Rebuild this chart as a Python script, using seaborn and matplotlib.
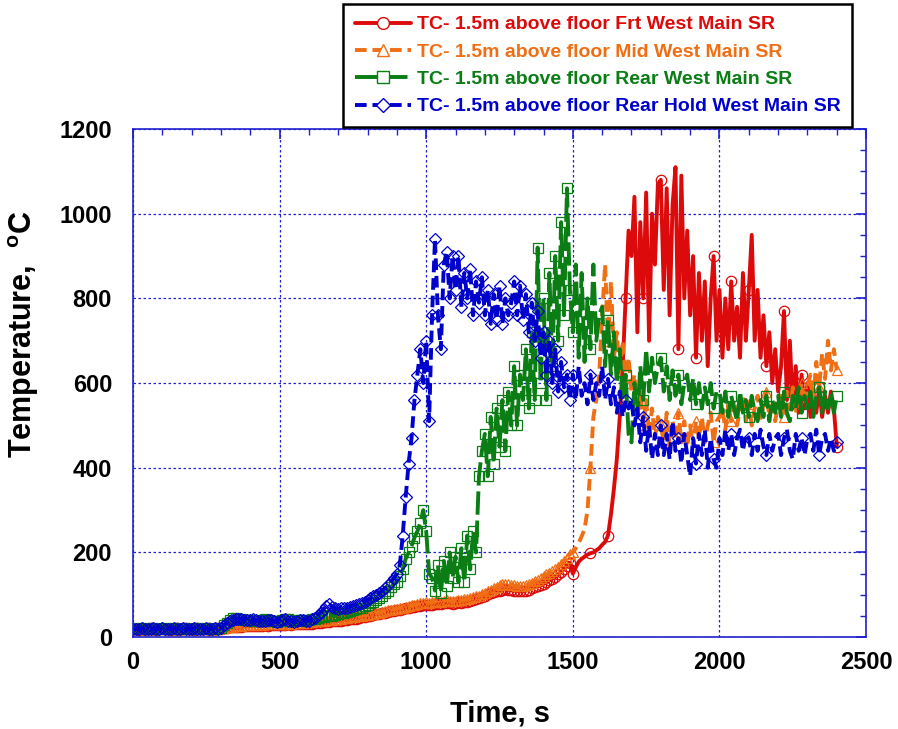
import matplotlib
matplotlib.use("Agg")
import matplotlib.pyplot as plt
from matplotlib.lines import Line2D
from matplotlib.ticker import MultipleLocator
import numpy as np
import seaborn as sns

# time axis, one reading every 10 s (0 .. 2400 s)
time_s = np.arange(0, 2410, 10)

# TC- 1.5m above floor Frt West Main SR
frt_west = [
    19, 20, 18, 21, 20, 19, 21, 20, 18, 20,
    21, 19, 20, 18, 20, 21, 19, 20, 21, 19,
    20, 18, 21, 20, 19, 20, 21, 19, 20, 21,
    20, 21, 22, 23, 24, 24, 25, 25, 26, 26,
    26, 27, 27, 26, 27, 28, 27, 28, 28, 29,
    28, 29, 29, 30, 29, 30, 31, 30, 31, 31,
    32, 32, 33, 33, 34, 35, 35, 36, 37, 37,
    38, 39, 40, 41, 42, 43, 44, 45, 47, 48,
    50, 51, 52, 54, 55, 56, 58, 60, 61, 62,
    63, 65, 66, 68, 70, 71, 72, 73, 74, 75,
    76, 75, 77, 78, 79, 78, 80, 81, 80, 79,
    80, 82, 81, 83, 84, 86, 88, 90, 92, 95,
    98, 101, 104, 106, 108, 110, 112, 113, 112, 111,
    110, 109, 108, 108, 110, 112, 115, 118, 120, 122,
    126, 130, 134, 138, 142, 148, 155, 162, 168, 175,
    150, 165, 178, 185, 190, 195, 198, 200, 205, 210,
    218, 225, 240, 290, 350, 420, 520, 640, 800, 960,
    900, 1040, 720, 980, 800, 1050, 700, 1000, 880, 1070,
    1080, 820, 1060, 760, 1020, 1110, 680, 1090, 800, 960,
    760, 900, 660, 860, 700, 840, 640, 800, 900, 700,
    820, 660, 800, 680, 840, 700, 780, 660, 860, 700,
    820, 950, 700, 820, 660, 760, 640, 720, 600, 680,
    580, 640, 770, 560, 700, 540, 640, 530, 620, 540,
    600, 520, 580, 530, 590, 520, 570, 530, 580, 540,
    450,
]

# TC- 1.5m above floor Mid West Main SR
mid_west = [
    20, 19, 21, 20, 18, 20, 21, 19, 20, 20,
    19, 21, 20, 19, 20, 18, 20, 21, 20, 19,
    21, 20, 19, 20, 21, 19, 20, 18, 21, 20,
    21, 22, 23, 24, 25, 26, 26, 27, 28, 28,
    28, 29, 29, 30, 29, 30, 30, 31, 31, 30,
    31, 31, 32, 31, 32, 33, 33, 34, 34, 35,
    35, 36, 37, 37, 38, 39, 40, 40, 41, 42,
    43, 44, 45, 46, 47, 48, 49, 50, 51, 52,
    53, 54, 55, 57, 58, 60, 61, 63, 65, 66,
    67, 69, 70, 72, 74, 75, 77, 78, 80, 81,
    82, 81, 83, 84, 85, 84, 86, 87, 86, 85,
    86, 88, 87, 89, 90, 92, 94, 96, 98, 101,
    104, 108, 112, 116, 119, 122, 125, 126, 125, 124,
    122, 121, 120, 120, 122, 125, 128, 132, 136, 140,
    144, 148, 152, 156, 160, 166, 172, 180, 188, 196,
    200, 210, 222, 238, 255, 300, 400, 520, 560, 620,
    760, 880, 700, 840, 660, 720, 620, 700, 600, 660,
    580, 620, 540, 580, 500, 560, 480, 540, 470, 520,
    500, 460, 530, 450, 510, 470, 530, 460, 510, 450,
    500, 450, 510, 470, 520, 460, 500, 530, 460, 510,
    520, 540, 490, 550, 510, 560, 500, 540, 570, 510,
    550, 500, 540, 570, 510, 550, 580, 520, 560, 510,
    550, 570, 520, 580, 540, 590, 530, 570, 600, 550,
    590, 620, 560, 650, 590, 670, 610, 700, 630, 680,
    630,
]

# TC- 1.5m above floor Rear West Main SR
rear_west = [
    20, 21, 19, 20, 21, 20, 19, 21, 20, 19,
    20, 21, 20, 19, 21, 20, 20, 19, 21, 20,
    19, 20, 21, 20, 19, 21, 20, 20, 19, 21,
    22, 28, 34, 40, 45, 46, 44, 42, 40, 41,
    40, 38, 37, 39, 41, 42, 40, 38, 37, 36,
    38, 40, 44, 42, 39, 38, 40, 41, 40, 39,
    40, 42, 44, 45, 47, 48, 50, 52, 51, 53,
    55, 57, 58, 60, 62, 64, 66, 68, 70, 73,
    76, 80, 84, 88, 92, 98, 104, 110, 118, 126,
    130, 145, 160, 185, 200, 215, 235, 250, 270, 300,
    250, 150, 140, 110, 170, 105, 180, 120, 200, 140,
    190, 130, 210, 130, 240, 160, 250, 200, 380, 440,
    480, 380, 520, 410, 540, 450, 560, 440, 580, 500,
    640, 500, 620, 560, 680, 540, 720, 560, 920, 600,
    800, 560, 860, 640, 900, 700, 980, 760, 1060, 820,
    720, 880, 660, 860, 650, 800, 680, 880, 700, 760,
    780, 640, 750, 620, 720, 600, 680, 560, 620, 480,
    460, 600, 520, 640, 560, 680, 580, 660, 600, 640,
    660, 580, 640, 560, 630, 570, 620, 550, 600, 620,
    560, 610, 550, 600, 540, 590, 550, 600, 540, 580,
    580, 530, 580, 520, 570, 540, 510, 580, 530, 560,
    520, 570, 530, 510, 560, 520, 570, 510, 560, 530,
    570, 520, 580, 530, 510, 570, 540, 590, 530, 570,
    540, 580, 520, 570, 590, 530, 580, 540, 570, 530,
    570,
]

# TC- 1.5m above floor Rear Hold West Main SR
rear_hold = [
    20, 19, 20, 21, 20, 19, 20, 21, 19, 20,
    21, 20, 19, 20, 21, 20, 19, 21, 20, 19,
    20, 21, 20, 19, 20, 21, 19, 20, 21, 20,
    22, 28, 33, 37, 40, 42, 44, 43, 41, 40,
    41, 43, 40, 38, 37, 39, 41, 40, 38, 36,
    38, 40, 42, 39, 37, 36, 38, 40, 41, 39,
    38, 42, 46, 52, 58, 66, 74, 78, 72, 68,
    66, 68, 70, 69, 72, 74, 76, 78, 80, 84,
    88, 92, 96, 100, 105, 110, 116, 122, 130, 140,
    150, 170, 240, 330, 410, 470, 560, 620, 680, 600,
    700, 510, 760, 940, 760, 680, 880, 910, 800, 900,
    820, 900, 780, 860, 800, 870, 760, 840, 790, 850,
    760, 820, 740, 810, 750, 830, 740, 800, 760, 790,
    840, 760, 830, 750, 810, 720, 790, 700, 770, 660,
    720, 620, 700, 600, 680, 580, 650, 590, 620, 560,
    620, 560, 640, 570, 600, 550, 620, 560, 600, 570,
    640, 560, 610, 550, 590, 530, 580, 520, 560, 540,
    560, 500, 540, 460, 520, 440, 500, 420, 480, 430,
    500, 430, 480, 420, 510, 440, 470, 410, 480, 430,
    380, 470, 410, 480, 430, 490, 400, 470, 420, 400,
    470, 430, 490, 440, 480, 430, 470, 490, 440, 480,
    470, 430, 480, 440, 490, 450, 430, 480, 440, 470,
    480, 430, 470, 490, 440, 420, 480, 440, 470, 430,
    470, 480, 440, 490, 430, 470, 480, 440, 470, 440,
    460,
]

labels = [
    "TC- 1.5m above floor Frt West Main SR",
    "TC- 1.5m above floor Mid West Main SR",
    "TC- 1.5m above floor Rear West Main SR",
    "TC- 1.5m above floor Rear Hold West Main SR",
]
series = [frt_west, mid_west, rear_west, rear_hold]
colors = ["#dc0a0a", "#f06e14", "#0a7d14", "#0000cd"]
markers = ["o", "^", "s", "D"]
msizes = [7.5, 7, 7.5, 6]
styles = ["-", (0, (3, 1.5)), (0, (6, 1.5)), (0, (3, 1.5))]

sns.set_theme(style="white")
plt.rcParams["font.family"] = ["Liberation Sans", "DejaVu Sans"]
plt.rcParams["font.weight"] = "bold"
plt.rcParams["text.color"] = "black"
plt.rcParams["axes.labelcolor"] = "black"
plt.rcParams["mathtext.fontset"] = "custom"
plt.rcParams["mathtext.bf"] = "Liberation Sans:bold"
plt.rcParams["mathtext.rm"] = "Liberation Sans:bold"

fig = plt.figure(figsize=(8.98, 7.29), dpi=100)
ax = fig.add_axes([0.148, 0.126, 0.8165, 0.697])

# markers: every reading up to ~1500 s, sparser afterwards
mark_idx = list(range(0, 150)) + list(range(150, len(time_s), 6))

handles = []
for vals, lab, col, mk, ms, ls in zip(series, labels, colors, markers, msizes, styles):
    sns.lineplot(x=time_s, y=vals, ax=ax, color=col, linestyle=ls, linewidth=2.8,
                 marker=mk, markersize=ms, markerfacecolor="none",
                 markeredgecolor=col, markeredgewidth=0.9, markevery=mark_idx,
                 errorbar=None, sort=False)
    handles.append(Line2D([], [], color=col, linestyle=ls, linewidth=2.8,
                          marker=mk, markersize=ms + 1, markerfacecolor="white",
                          markeredgecolor=col, markeredgewidth=1.0))

ax.set_xlim(0, 2500)
ax.set_ylim(0, 1200)
ax.xaxis.set_major_locator(MultipleLocator(500))
ax.xaxis.set_minor_locator(MultipleLocator(100))
ax.yaxis.set_major_locator(MultipleLocator(200))
ax.yaxis.set_minor_locator(MultipleLocator(50))

blue = "#2020d0"
for sp in ax.spines.values():
    sp.set_color(blue)
    sp.set_linewidth(1.2)
ax.tick_params(which="both", direction="in", top=True, right=True,
               colors=blue, labelcolor="black", labelsize=17)
ax.tick_params(which="major", length=7, width=1.2, pad=10)
ax.tick_params(axis="y", which="major", pad=15)
ax.tick_params(which="minor", length=4, width=1.0)
for t in ax.get_xticklabels() + ax.get_yticklabels():
    t.set_fontweight("bold")

ax.grid(True, which="major", color=blue, linestyle=(0, (2, 2)), linewidth=0.9)

ax.set_xlabel("Time, s", fontsize=21, fontweight="bold", labelpad=18)
ax.set_ylabel(r"Temperature,  $^{\mathbf{o}}$C", fontsize=22, fontweight="bold")
ax.yaxis.set_label_coords(-0.125, 0.596)

leg = ax.legend(handles, labels, loc="upper right", bbox_to_anchor=(0.981, 1.246),
                borderaxespad=0, fancybox=False, framealpha=1, edgecolor="black",
                fontsize=14, handlelength=2.9, handletextpad=0.3, labelspacing=0.5,
                borderpad=0.6, numpoints=1)
leg.get_frame().set_linewidth(1.8)
for txt, col in zip(leg.get_texts(), colors):
    txt.set_color(col)
    txt.set_fontweight("bold")

fig.savefig("out.png", dpi=100)
